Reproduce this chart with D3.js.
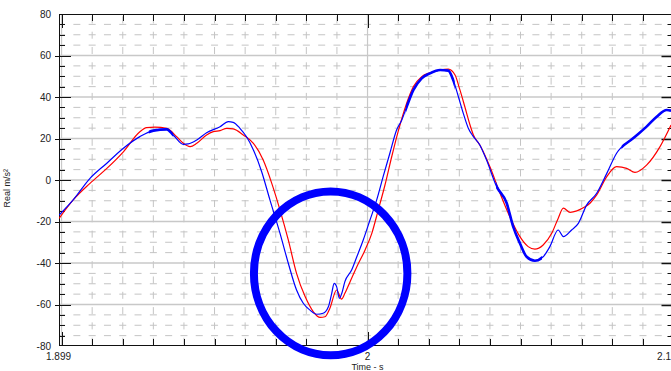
<!DOCTYPE html>
<html>
<head>
<meta charset="utf-8">
<script src="https://cdn.jsdelivr.net/npm/d3@7"></script>
<style>
  html, body { margin: 0; padding: 0; background: #fff; }
  svg { display: block; }
  text { font-family: "Liberation Sans", Arial, sans-serif; fill: #222; }
</style>
</head>
<body>
<div id="chart"></div>
<script>
// ---- data ----
const redTime = [1.8992,1.9038,1.9093,1.9148,1.9202,1.9256,1.9278,1.9305,1.9344,1.9376,1.9398,1.9420,1.9442,1.9474,1.9496,1.9518,1.9540,1.9561,1.9594,1.9627,1.9659,1.9687,1.9714,1.9741,1.9768,1.9796,1.9823,1.9845,1.9861,1.9877,1.9899,1.9915,1.9926,1.9943,1.9965,1.9992,2.0014,2.0035,2.0057,2.0079,2.0100,2.0128,2.0150,2.0177,2.0204,2.0237,2.0264,2.0286,2.0302,2.0318,2.0335,2.0346,2.0367,2.0400,2.0433,2.0465,2.0498,2.0525,2.0547,2.0574,2.0602,2.0623,2.0640,2.0662,2.0684,2.0705,2.0727,2.0749,2.0782,2.0814,2.0847,2.0874,2.0912,2.0956,2.0992];
const redAccel = [-18.5,-9.6,-1.6,5.6,13.6,23.3,25.2,25.5,24.9,20.9,17.7,16.1,17.7,21.7,23.3,23.8,24.9,24.6,21.7,17.7,9.6,-1.6,-14.5,-28.9,-45.0,-56.2,-63.5,-66.2,-65.9,-61.8,-53.0,-57.4,-54.6,-49.0,-41.8,-33.7,-25.7,-14.5,-2.4,11.2,23.3,37.0,45.0,49.8,51.7,53.0,53.4,50.6,43.4,35.3,26.5,21.7,16.9,6.4,-6.4,-17.7,-27.3,-32.1,-33.3,-31.3,-25.7,-18.5,-13.6,-15.6,-14.9,-13.4,-11.2,-7.2,1.6,6.4,5.6,3.7,7.2,16.1,26.5];

const blueTime = [1.8992,1.9038,1.9093,1.9148,1.9202,1.9256,1.9300,1.9344,1.9365,1.9398,1.9414,1.9442,1.9474,1.9518,1.9545,1.9561,1.9583,1.9605,1.9627,1.9654,1.9681,1.9714,1.9741,1.9768,1.9790,1.9812,1.9834,1.9855,1.9872,1.9883,1.9891,1.9899,1.9908,1.9916,1.9926,1.9948,1.9965,1.9986,2.0008,2.0030,2.0051,2.0073,2.0095,2.0112,2.0128,2.0150,2.0177,2.0204,2.0237,2.0264,2.0280,2.0297,2.0313,2.0329,2.0346,2.0367,2.0389,2.0422,2.0455,2.0476,2.0498,2.0520,2.0547,2.0574,2.0596,2.0623,2.0640,2.0667,2.0689,2.0716,2.0749,2.0782,2.0814,2.0868,2.0912,2.0945,2.0978,2.0992];
const blueAccel = [-16.9,-9.6,0.8,8.1,15.3,20.9,23.8,24.4,21.7,17.2,17.4,19.3,22.8,25.7,28.1,27.8,24.9,20.7,14.5,4.0,-9.6,-25.7,-40.1,-53.0,-59.4,-62.7,-64.7,-64.2,-61.1,-54.6,-49.8,-51.4,-57.0,-54.6,-49.0,-43.4,-37.0,-28.9,-19.3,-9.6,1.6,12.9,24.1,28.9,35.3,43.4,49.0,51.4,53.0,52.7,48.2,40.1,32.1,25.1,20.9,16.9,9.6,-3.2,-11.2,-22.5,-30.5,-37.0,-38.9,-37.0,-32.1,-24.1,-27.3,-24.1,-20.9,-12.1,-6.4,3.2,12.9,20.1,25.7,30.5,33.7,33.4];

// time ranges where the measured (blue) trace is visibly noisy
const blueNoisyRanges = [[1.9285,1.9365],[2.0125,2.0285],[2.0420,2.0570],[2.0830,2.1000]];

const xLabelValues = [1.899, 2, 2.1];
const xLabelTexts = ["1.899", "2", "2.1"];
const yTickValues = [-80, -60, -40, -20, 0, 20, 40, 60, 80];
const xTitle = "Time - s";
const yTitle = "Real m/s²";
// annotation ellipse (centre time, centre value, half-width in s, half-height in m/s²)
const ring = { t: 1.98795, v: -45.0, dt: 0.02508, dv: 39.5 };

// ---- drawing ----
const W = 671, H = 371;
const x = d3.scaleLinear().domain([1.899, 2.1]).range([58.5, 673.5]);
const y = d3.scaleLinear().domain([-80, 80]).range([346, 14]);
const pL = 59, pR = 673.5, pT = 14, pB = 346;

const svg = d3.select("#chart").append("svg").attr("width", W).attr("height", H);

svg.append("clipPath").attr("id", "plotclip")
  .append("rect").attr("x", pL).attr("y", pT).attr("width", pR - pL).attr("height", pB - pT);

const grid = svg.append("g");
// minor horizontal dashed lines every 5
const yMinor = d3.range(-75, 80, 5).filter(v => v % 20 !== 0);
const firstV = x(1.9) - 3.5;
grid.selectAll(".hm").data(yMinor).join("line")
  .attr("x1", pL).attr("x2", pR)
  .attr("y1", d => y(d)).attr("y2", d => y(d))
  .attr("stroke", "#c4c4c4").attr("stroke-width", 1)
  .attr("stroke-dasharray", "7,8.3")
  .attr("stroke-dashoffset", pL - firstV);
// minor vertical dashed lines every 0.01
const xMinor = d3.range(1, 20).map(i => 1.9 + i * 0.01).filter(t => Math.abs(t - 2) > 1e-6);
grid.selectAll(".vm").data(xMinor).join("line")
  .attr("x1", d => x(d)).attr("x2", d => x(d))
  .attr("y1", pT).attr("y2", pB)
  .attr("stroke", "#c4c4c4").attr("stroke-width", 1)
  .attr("stroke-dasharray", "7,8.3")
  .attr("stroke-dashoffset", -17.7);
// major horizontal solid lines
grid.selectAll(".hM").data(yTickValues.filter(v => v > -80 && v < 80)).join("line")
  .attr("x1", pL).attr("x2", pR)
  .attr("y1", d => y(d)).attr("y2", d => y(d))
  .attr("stroke", "#c8c8c8").attr("stroke-width", 1.5);
// major vertical solid lines
grid.selectAll(".vM").data([1.9, 2.0]).join("line")
  .attr("x1", d => x(d)).attr("x2", d => x(d))
  .attr("y1", pT).attr("y2", pB)
  .attr("stroke", "#c8c8c8").attr("stroke-width", 1.2);

// ---- axes ----
const axes = svg.append("g").attr("stroke", "#111").attr("stroke-width", 1);
axes.append("line").attr("x1", pL).attr("x2", pR).attr("y1", pT + 0.5).attr("y2", pT + 0.5);
axes.append("line").attr("x1", pL).attr("x2", pR).attr("y1", pB - 0.5).attr("y2", pB - 0.5);
axes.append("line").attr("x1", pL + 0.5).attr("x2", pL + 0.5).attr("y1", pT).attr("y2", pB);
axes.append("line").attr("x1", pR - 0.5).attr("x2", pR - 0.5).attr("y1", pT).attr("y2", pB);

const xTicksAll = d3.range(0, 21).map(i => 1.9 + i * 0.01);
const isMajorX = t => Math.abs(t * 10 - Math.round(t * 10)) < 1e-6;
axes.selectAll(".xtb").data(xTicksAll).join("line")
  .attr("x1", d => Math.round(x(d)) + 0.5).attr("x2", d => Math.round(x(d)) + 0.5)
  .attr("y1", pB).attr("y2", d => pB - (isMajorX(d) ? 14 : 7));
axes.selectAll(".xtt").data(xTicksAll).join("line")
  .attr("x1", d => Math.round(x(d)) + 0.5).attr("x2", d => Math.round(x(d)) + 0.5)
  .attr("y1", pT).attr("y2", d => pT + (isMajorX(d) ? 14 : 7));

const yTicksAll = d3.range(-75, 80, 5);
const isMajorY = v => v % 20 === 0;
axes.selectAll(".ytl").data(yTicksAll).join("line")
  .attr("y1", d => Math.round(y(d)) + 0.5).attr("y2", d => Math.round(y(d)) + 0.5)
  .attr("x1", d => isMajorY(d) ? pL - 4 : pL).attr("x2", d => pL + (isMajorY(d) ? 12 : 6));
axes.selectAll(".ytr").data(yTicksAll).join("line")
  .attr("y1", d => Math.round(y(d)) + 0.5).attr("y2", d => Math.round(y(d)) + 0.5)
  .attr("x1", pR).attr("x2", d => pR - (isMajorY(d) ? 12 : 6))
  .attr("stroke-width", d => isMajorY(d) ? 1.5 : 1);

// tick labels
svg.selectAll(".yl").data(yTickValues).join("text")
  .attr("x", 51).attr("y", d => y(d) + 3.5)
  .attr("text-anchor", "end").attr("font-size", 10)
  .text(d => d);
svg.selectAll(".xl").data(xLabelValues).join("text")
  .attr("x", (d, i) => i === xLabelValues.length - 1 ? W : x(d))
  .attr("y", 360)
  .attr("text-anchor", (d, i) => i === xLabelValues.length - 1 ? "end" : "middle")
  .attr("font-size", 10)
  .text((d, i) => xLabelTexts[i]);
svg.append("text").attr("x", x(2)).attr("y", 370).attr("text-anchor", "middle")
  .attr("font-size", 9).text(xTitle);
svg.append("text").attr("transform", `translate(10,${y(-4)}) rotate(-90)`)
  .attr("text-anchor", "middle").attr("font-size", 9).text(yTitle);

// ---- series ----
const lineGen = d3.line().x(d => x(d[0])).y(d => y(d[1])).curve(d3.curveMonotoneX);
const redPts = redTime.map((t, i) => [t, redAccel[i]]);
const bluePts = blueTime.map((t, i) => [t, blueAccel[i]]);
const plot = svg.append("g").attr("clip-path", "url(#plotclip)");
plot.append("path").attr("d", lineGen(redPts)).attr("fill", "none")
  .attr("stroke", "#ff0000").attr("stroke-width", 1.2);
plot.append("path").attr("d", lineGen(bluePts)).attr("fill", "none")
  .attr("stroke", "#0000ff").attr("stroke-width", 1.2);
blueNoisyRanges.forEach((r, i) => {
  svg.append("clipPath").attr("id", "noise" + i).append("rect")
    .attr("x", x(r[0])).attr("width", x(r[1]) - x(r[0])).attr("y", pT).attr("height", pB - pT);
  plot.append("g").attr("clip-path", `url(#noise${i})`)
    .append("path").attr("d", lineGen(bluePts)).attr("fill", "none")
    .attr("stroke", "#0000ff").attr("stroke-width", 2.6);
});

// ---- annotation ring ----
svg.append("ellipse")
  .attr("cx", x(ring.t)).attr("cy", y(ring.v))
  .attr("rx", x(ring.t + ring.dt) - x(ring.t))
  .attr("ry", y(ring.v) - y(ring.v + ring.dv))
  .attr("fill", "none").attr("stroke", "#0000ff").attr("stroke-width", 8);
</script>
</body>
</html>
